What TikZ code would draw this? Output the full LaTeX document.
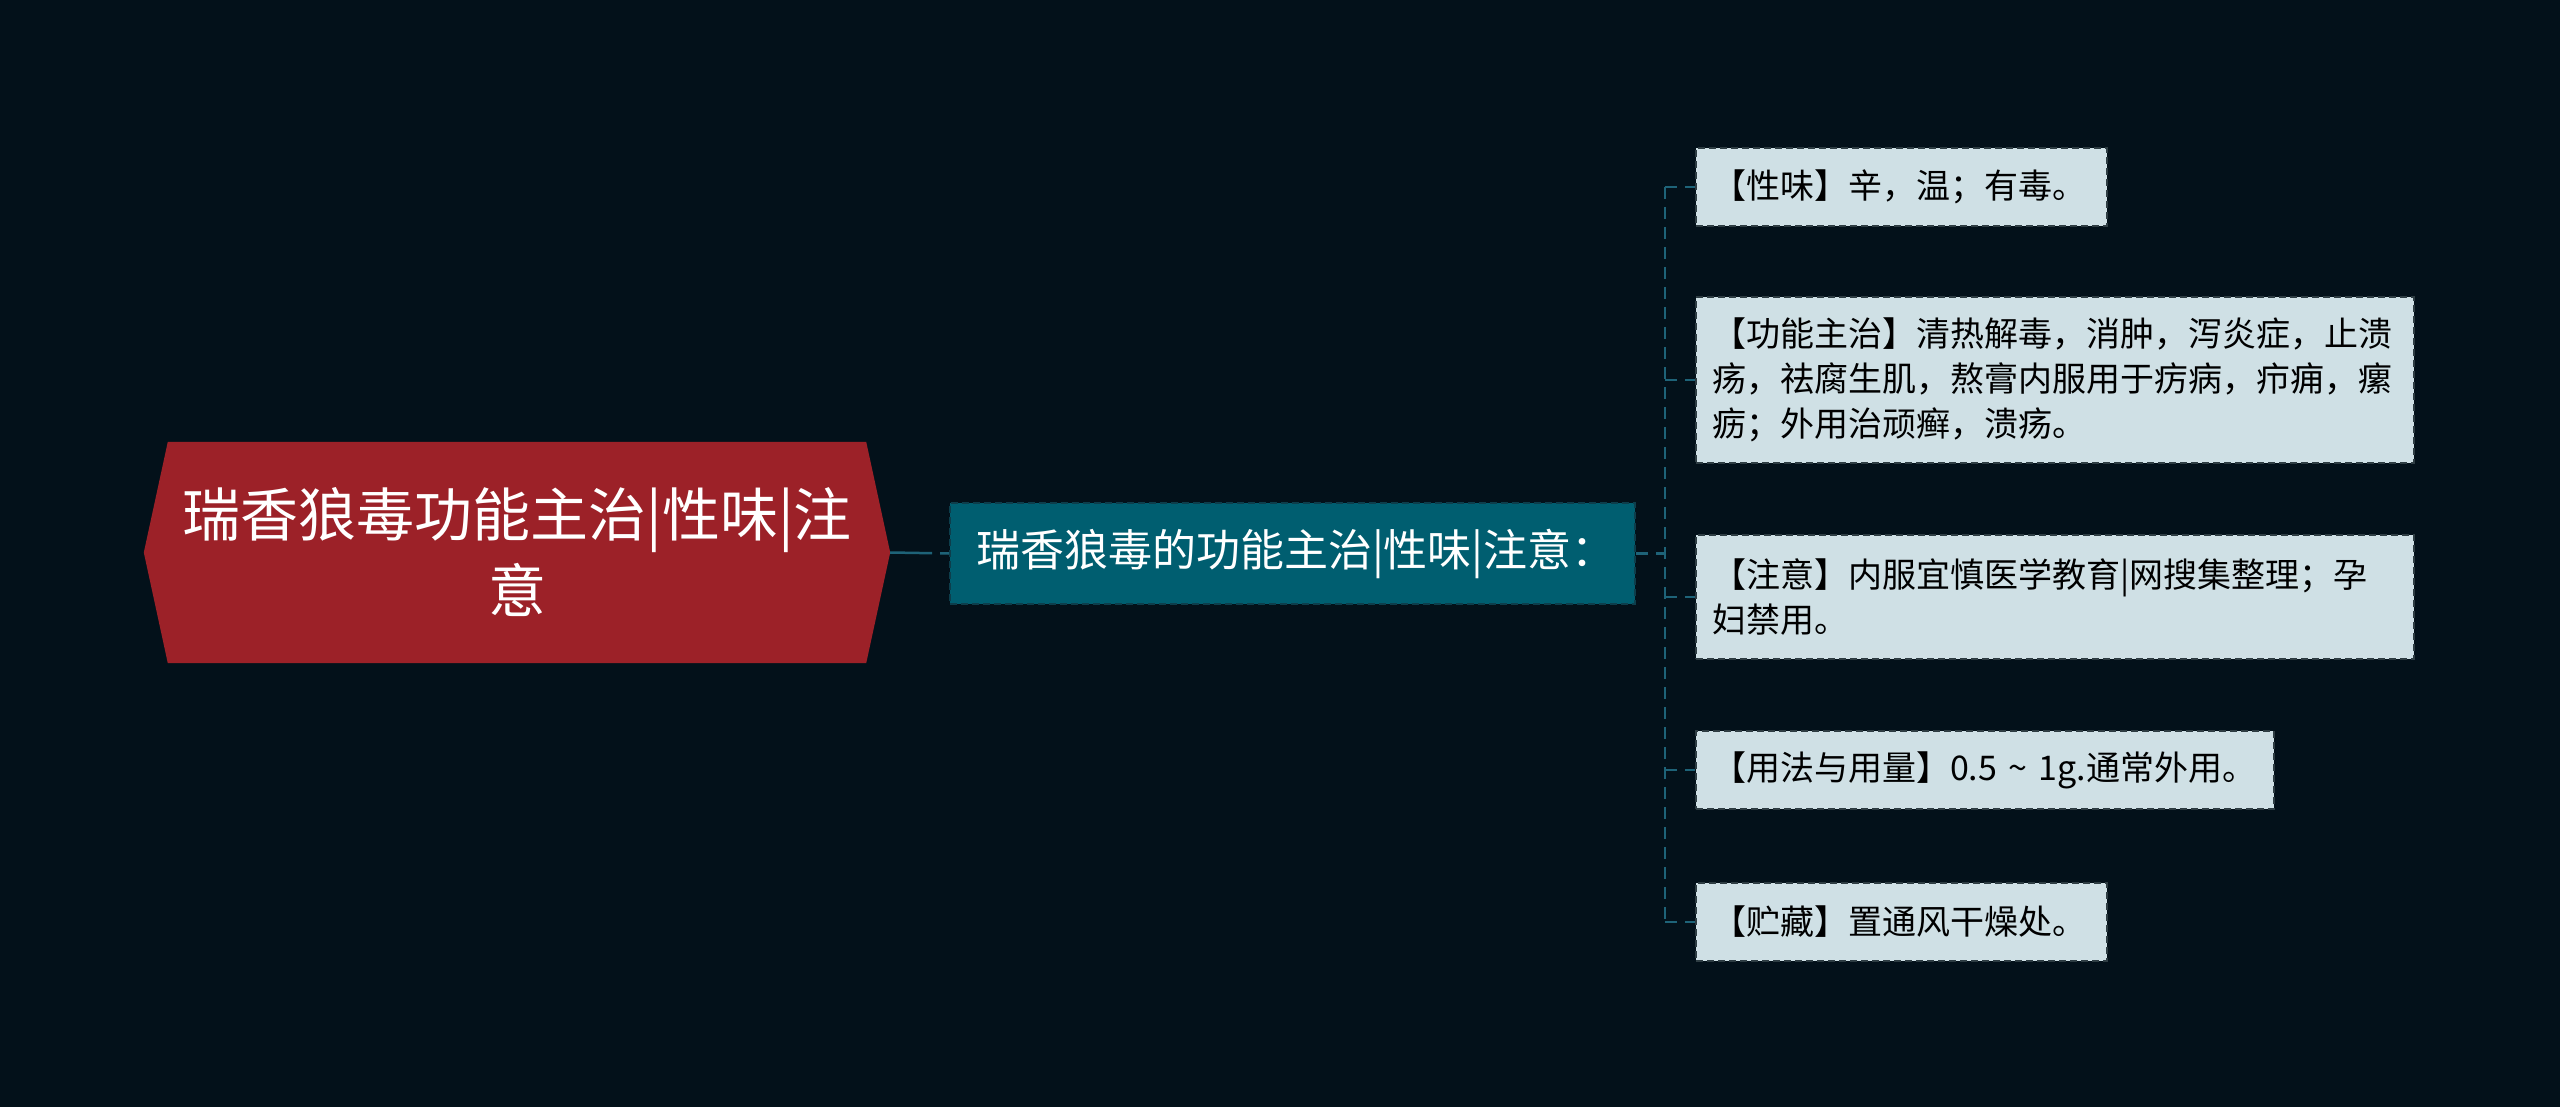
\documentclass[tikz,border=0pt]{standalone}
\usepackage{fontspec}
\setmainfont{Noto Sans CJK SC}
\pgfdeclarelayer{bg}
\pgfsetlayers{bg,main}
\definecolor{bgcol}{HTML}{03111A}
\definecolor{rootred}{HTML}{9C2128}
\definecolor{midfill}{HTML}{005E70}
\definecolor{midline}{HTML}{0D3E4C}
\definecolor{leaffill}{HTML}{CFE0E5}
\definecolor{leafline}{HTML}{2E3D43}
\definecolor{conncol}{HTML}{1E6378}
\tikzset{
  roottext/.style={align=center, text=white, inner sep=0pt,
    minimum width=746pt, minimum height=221pt,
    font=\fontsize{58pt}{76pt}\selectfont},
  midbox/.style={fill=midfill, draw=midline, line width=2pt, dash pattern=on 7pt off 4pt,
    text=white, align=left, inner xsep=26pt, inner ysep=0pt, text width=633pt,
    minimum height=101pt, font=\fontsize{44pt}{54pt}\selectfont},
  leafbox/.style={fill=leaffill, draw=leafline, line width=2pt, dash pattern=on 7pt off 4pt,
    text=black, align=left, inner xsep=16pt, inner ysep=0pt, anchor=north west,
    font=\fontsize{34pt}{45pt}\selectfont},
  conn/.style={draw=conncol, line width=2.5pt, dash pattern=on 12pt off 8pt},
}
\begin{document}
\begin{tikzpicture}[x=1pt,y=-1pt]
\useasboundingbox (0,0) rectangle (2560,1107);
\begin{pgfonlayer}{bg}
\fill[bgcol] (0,0) rectangle (2560,1107);
\end{pgfonlayer}
\node[roottext] (root) at (517,552.5) {瑞香狼毒功能主治|性味|注\\意};
\begin{pgfonlayer}{bg}
\fill[rootred] ([xshift=24pt]root.north west) -- ([xshift=-24pt]root.north east) -- (root.east)
  -- ([xshift=-24pt]root.south east) -- ([xshift=24pt]root.south west) -- (root.west) -- cycle;
\end{pgfonlayer}
\node[midbox, anchor=west] (mid) at (949,553.5) {瑞香狼毒的功能主治|性味|注意：};
\node[leafbox, text width=379pt, minimum height=78pt] (c1) at (1695,147) {【性味】辛，温；有毒。};
\node[leafbox, text width=686pt, minimum height=166pt] (c2) at (1695,296) {【功能主治】清热解毒，消肿，泻炎症，止溃\\疡，祛腐生肌，熬膏内服用于疠病，疖痈，瘰\\疬；外用治顽癣，溃疡。};
\node[leafbox, text width=686pt, minimum height=124pt] (c3) at (1695,534) {【注意】内服宜慎医学教育|网搜集整理；孕\\妇禁用。};
\node[leafbox, text width=546pt, minimum height=78pt] (c4) at (1695,730) {【用法与用量】0.5 \char"007E\ 1g.通常外用。};
\node[leafbox, text width=379pt, minimum height=78pt] (c5) at (1695,882) {【贮藏】置通风干燥处。};
\coordinate (bus) at (1665,553.5);
\draw[conn, dash pattern=on 42pt off 8pt] (root.east) -- (mid.west);
\draw[conn] (mid.east) -- (bus);
\draw[conn] (c1.west -| bus) -- (c5.west -| bus);
\foreach \c in {c1,c2,c3,c4,c5} {
  \draw[conn] (\c.west -| bus) -- (\c.west);
}
\end{tikzpicture}
\end{document}
